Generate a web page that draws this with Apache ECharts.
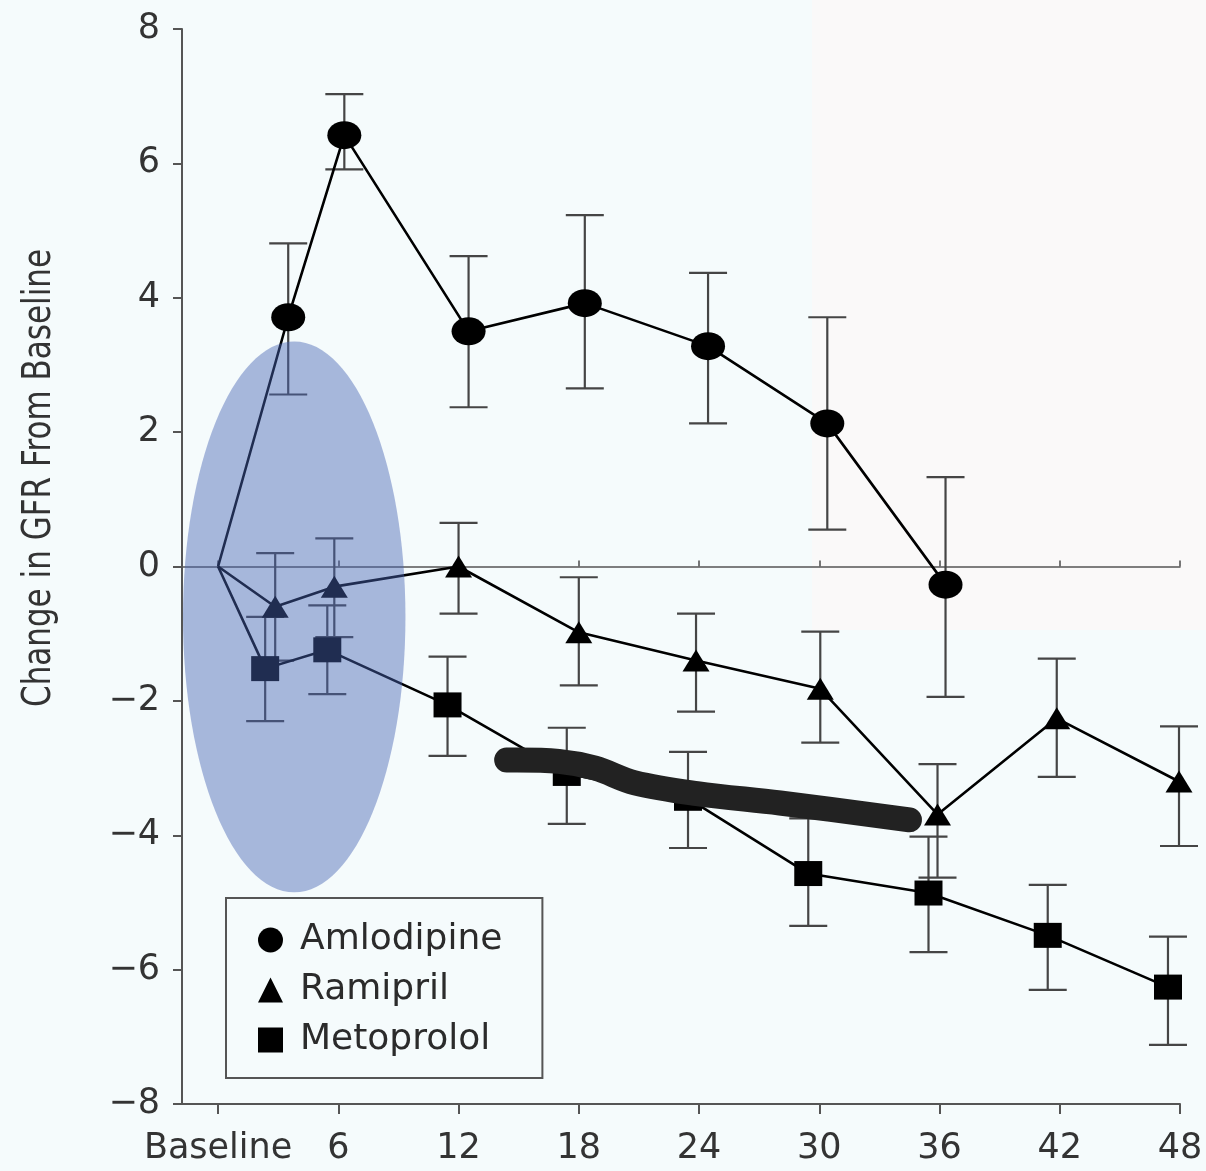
<!DOCTYPE html>
<html>
<head>
<meta charset="utf-8">
<script src="https://cdn.jsdelivr.net/npm/echarts@6/dist/echarts.min.js"></script>
<style>
  html, body { margin: 0; padding: 0; background: #f5fbfc; }
  #chart { width: 1206px; height: 1171px; }
</style>
</head>
<body>
<div id="chart"></div>
<script>
// months (slightly dodged per group, as in the figure) and change in GFR
var amloX    = [0, 3.5, 6.3, 12.5, 18.3, 24.45, 30.4, 36.3];
var amloY    = [0, 3.71, 6.42, 3.5, 3.92, 3.28, 2.13, -0.27];
var amloLow  = [null, 2.56, 5.91, 2.37, 2.65, 2.13, 0.55, -1.94];
var amloHigh = [null, 4.81, 7.03, 4.62, 5.23, 4.37, 3.71, 1.33];

var ramiX    = [0, 2.85, 5.8, 12.0, 18.0, 23.85, 30.05, 35.9, 41.85, 47.95];
var ramiY    = [0, -0.6, -0.3, 0, -0.98, -1.4, -1.82, -3.69, -2.26, -3.2];
var ramiLow  = [null, -1.4, -1.05, -0.7, -1.77, -2.16, -2.62, -4.63, -3.13, -4.16];
var ramiHigh = [null, 0.2, 0.42, 0.65, -0.16, -0.7, -0.97, -2.94, -1.37, -2.38];

var metoX    = [0, 2.35, 5.45, 11.45, 17.4, 23.45, 29.45, 35.45, 41.4, 47.4];
var metoY    = [0, -1.52, -1.24, -2.06, -3.08, -3.45, -4.57, -4.86, -5.49, -6.26];
var metoLow  = [null, -2.3, -1.9, -2.82, -3.83, -4.19, -5.35, -5.74, -6.3, -7.12];
var metoHigh = [null, -0.75, -0.58, -1.34, -2.4, -2.76, -3.75, -4.02, -4.74, -5.51];

var xTicks = [0, 6, 12, 18, 24, 30, 36, 42, 48];
var xTickLabels = ['Baseline', '6', '12', '18', '24', '30', '36', '42', '48'];

// hand drawn marks on the figure (data units)
var ovalCenter = [3.8, -0.75];
var ovalRadius = [5.55, 4.1];
var strokeX = [14.4, 17.0, 18.8, 20.8, 23.9, 28.04, 34.5];
var strokeY = [-2.88, -2.9, -3.0, -3.22, -3.38, -3.52, -3.77];

var FONT = 'DejaVu Sans';

function pairs(xs, ys) {
  return xs.map(function (x, i) { return [x, ys[i]]; });
}
function bars(xs, lo, hi) {
  var out = [];
  for (var i = 0; i < xs.length; i++) {
    if (lo[i] == null) continue;
    out.push([xs[i], lo[i], hi[i]]);
  }
  return out;
}

function errRender(params, api) {
  var x = api.value(0);
  var top = api.coord([x, api.value(2)]);
  var bot = api.coord([x, api.value(1)]);
  var w = 19;
  var st = { stroke: '#454545', lineWidth: 2.2 };
  return {
    type: 'group',
    children: [
      { type: 'line', shape: { x1: top[0], y1: top[1], x2: bot[0], y2: bot[1] }, style: st },
      { type: 'line', shape: { x1: top[0] - w, y1: top[1], x2: top[0] + w, y2: top[1] }, style: st },
      { type: 'line', shape: { x1: bot[0] - w, y1: bot[1], x2: bot[0] + w, y2: bot[1] }, style: st }
    ]
  };
}

function errSeries(xs, lo, hi) {
  return {
    type: 'custom',
    renderItem: errRender,
    encode: { x: 0, y: [1, 2] },
    data: bars(xs, lo, hi),
    z: 1,
    silent: true
  };
}

function lineSeries(name, xs, ys, symbol, size) {
  return {
    name: name,
    type: 'line',
    data: pairs(xs, ys),
    symbol: symbol,
    symbolSize: function (v) { return v[0] === 0 ? 0 : size; },
    showAllSymbol: true,
    lineStyle: { color: '#000', width: 2.6 },
    itemStyle: { color: '#000' },
    z: 3
  };
}

var myChart = echarts.init(document.getElementById('chart'));

var option = {
  backgroundColor: '#f5fbfc',
  animation: false,
  grid: { left: 182, right: 26, top: 29, bottom: 67 },
  legend: {
    orient: 'vertical',
    left: 226,
    top: 898,
    padding: [24, 40, 20, 32],
    itemGap: 14,
    itemWidth: 25,
    itemHeight: 25,
    borderColor: '#555',
    borderWidth: 2,
    textStyle: { fontFamily: FONT, fontSize: 36, color: '#2b2b2b', padding: [0, 0, 0, 12] },
    data: [
      { name: 'Amlodipine', icon: 'circle' },
      { name: 'Ramipril', icon: 'triangle' },
      { name: 'Metoprolol', icon: 'rect' }
    ]
  },
  xAxis: [
    {
      type: 'value',
      min: -1.8,
      max: 48,
      axisLine: { onZero: false, lineStyle: { color: '#555', width: 2 } },
      axisTick: { customValues: xTicks, length: 10, lineStyle: { color: '#555', width: 2 } },
      axisLabel: {
        customValues: xTicks,
        margin: 27,
        fontFamily: FONT,
        fontSize: 35,
        color: '#333',
        formatter: function (v) { return xTickLabels[xTicks.indexOf(v)]; }
      },
      splitLine: { show: false }
    },
    {
      // the zero reference line, with its small ticks
      type: 'value',
      min: -1.8,
      max: 48,
      axisLine: { onZero: true, lineStyle: { color: '#555', width: 1.6 } },
      axisTick: { customValues: xTicks, length: 6, lineStyle: { color: '#555', width: 1.6 } },
      axisLabel: { show: false },
      splitLine: { show: false }
    }
  ],
  yAxis: {
    type: 'value',
    min: -8,
    max: 8,
    interval: 2,
    axisLine: { show: true, onZero: false, lineStyle: { color: '#555', width: 2 } },
    axisTick: { show: true, length: 9, lineStyle: { color: '#555', width: 2 } },
    axisLabel: {
      margin: 22,
      fontFamily: FONT,
      fontSize: 35,
      color: '#333',
      formatter: function (v) { return v < 0 ? '\u2212' + Math.abs(v) : String(v); }
    },
    splitLine: { show: false }
  },
  series: [
    errSeries(amloX, amloLow, amloHigh),
    errSeries(ramiX, ramiLow, ramiHigh),
    errSeries(metoX, metoLow, metoHigh),
    lineSeries('Amlodipine', amloX, amloY, 'circle', [34, 28]),
    lineSeries('Ramipril', ramiX, ramiY, 'triangle', [27, 22]),
    lineSeries('Metoprolol', metoX, metoY, 'rect', [28, 25])
  ]
};

myChart.setOption(option);

// overlay marks, placed through the chart's own scales
var c = myChart.convertToPixel({ gridIndex: 0 }, ovalCenter);
var e = myChart.convertToPixel({ gridIndex: 0 }, [ovalCenter[0] + ovalRadius[0], ovalCenter[1] + ovalRadius[1]]);
var strokePts = strokeX.map(function (x, i) {
  return myChart.convertToPixel({ gridIndex: 0 }, [x, strokeY[i]]);
});

myChart.setOption({
  graphic: [
    {
      type: 'rect',
      z: -10,
      shape: { x: 812, y: 0, width: 394, height: 630 },
      style: { fill: '#faf9f9' }
    },
    {
      type: 'text',
      x: 40,
      y: 478,
      rotation: Math.PI / 2,
      scaleY: 1.25,
      style: {
        text: 'Change in GFR From Baseline',
        font: '31px "DejaVu Sans"',
        fill: '#333',
        align: 'center',
        verticalAlign: 'middle'
      }
    },
    {
      type: 'ellipse',
      z: 100,
      shape: { cx: c[0], cy: c[1], rx: e[0] - c[0], ry: c[1] - e[1] },
      style: { fill: 'rgba(70, 100, 180, 0.45)' }
    },
    {
      type: 'polyline',
      z: 100,
      shape: { points: strokePts, smooth: 0.35 },
      style: { stroke: '#222', lineWidth: 25, lineCap: 'round', lineJoin: 'round', fill: null }
    }
  ]
});
console.log("finish");
</script>
</body>
</html>
